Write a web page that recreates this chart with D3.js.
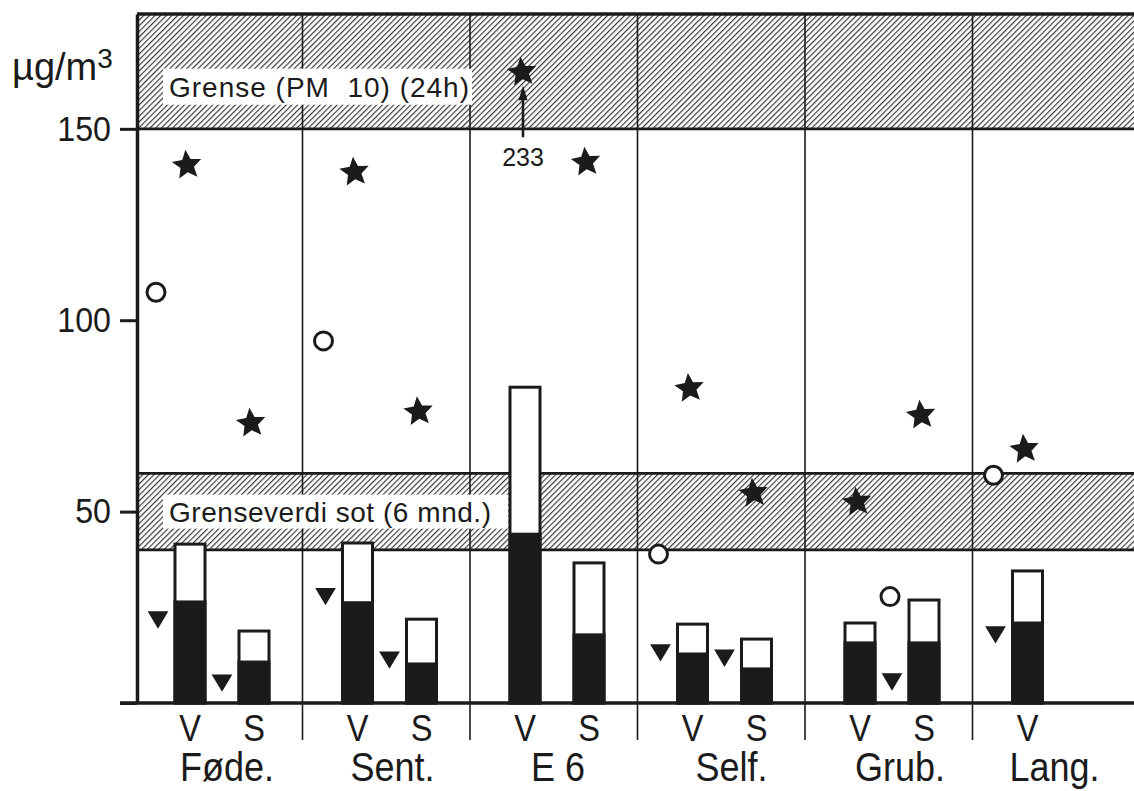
<!DOCTYPE html>
<html><head><meta charset="utf-8">
<script src="https://cdn.jsdelivr.net/npm/d3@7"></script>
<style>
html,body{margin:0;padding:0;background:#fff;}
svg{display:block;font-family:"Liberation Sans",Arial,sans-serif;}
</style></head><body>
<svg id="chart" width="1134" height="791"></svg>
<script>
// ---------- data ----------
const groups = ["Føde.","Sent.","E 6","Self.","Grub.","Lang."];
const yTicks = [0, 50, 100, 150];
const yUnit = "µg/m";

// bars (total = open + black part, soot = black part)
const barGroup  = ["Føde.","Føde.","Sent.","Sent.","E 6","E 6","Self.","Self.","Grub.","Grub.","Lang."];
const barSlot   = ["V","S","V","S","V","S","V","S","V","S","V"];
const barTotal  = [41.5, 18.8, 41.8, 21.9, 82.5, 36.6, 20.6, 16.7, 20.9, 26.9, 34.5];
const barSoot   = [26.4, 10.7, 26.2, 10.2, 44.1, 17.8, 12.8,  8.9, 15.7, 15.7, 20.9];

// stars
const starGroup = ["Føde.","Føde.","Sent.","Sent.","E 6","E 6","Self.","Self.","Grub.","Grub.","Lang."];
const starSlot  = ["V","S","V","S","V","S","V","S","V","S","V"];
const starValue = [140.5, 73.1, 138.7, 76.1, 164.8, 141.3, 82.2, 54.8, 52.5, 75.2, 66.3];
// off-scale star (E 6, V): drawn at 164.8, real value 233
const offScaleGroup = "E 6";
const offScaleLabel = "233";

// open circles
const circleGroup = ["Føde.","Sent.","Self.","Grub.","Lang."];
const circleSlot  = ["preV","preV","preV","preS","preV"];
const circleValue = [107.3, 94.6, 38.9, 27.8, 59.5];

// down triangles
const triGroup = ["Føde.","Føde.","Sent.","Sent.","Self.","Self.","Grub.","Lang."];
const triSlot  = ["preV","preS","preV","preS","preV","preS","preS","preV"];
const triValue = [21.7, 5.2, 27.8, 11.2, 13.1, 11.7, 5.5, 17.8];

// limit bands
const bandLow   = [150, 40];
const bandHigh  = [180, 60];
const bandLabel = ["Grense (PM  10) (24h)", "Grenseverdi sot (6 mnd.)"];
const bandLabelValue = [161, 50];

// season labels under each group
const seasonGroup = ["Føde.","Føde.","Sent.","Sent.","E 6","E 6","Self.","Self.","Grub.","Grub.","Lang."];
const seasonSlot  = ["V","S","V","S","V","S","V","S","V","S","V"];

// ---------- layout ----------
const W = 1134, H = 791;
const ink = "#1b1b1b";
const svg = d3.select("#chart");

const x = d3.scaleBand().domain(groups).range([137, 1142]);
const sub = d3.scalePoint().domain(["preV","V","preS","S"]).range([21, 117]);
const y = d3.scaleLinear().domain([0, 180]).range([703, 14]);
const px = (g, s) => x(g) + sub(s);

const xLeft = 137, xRight = W;

// hatch pattern
const defs = svg.append("defs");
const pat = defs.append("pattern").attr("id","hatch").attr("patternUnits","userSpaceOnUse")
  .attr("width",4).attr("height",4).attr("patternTransform","rotate(45)");
pat.append("rect").attr("width",4).attr("height",4).attr("fill","#fff");
pat.append("line").attr("x1",0.6).attr("y1",-1).attr("x2",0.6).attr("y2",5)
  .attr("stroke","#333").attr("stroke-width",1.15);

// bands
svg.append("g").selectAll("rect").data(bandLow).join("rect")
  .attr("x", xLeft).attr("width", xRight - xLeft)
  .attr("y", (d,i) => y(bandHigh[i])).attr("height", (d,i) => y(d) - y(bandHigh[i]))
  .attr("fill","url(#hatch)");

// band edge lines
const edgeVals = [150, 60, 40];
svg.append("g").selectAll("line").data(edgeVals).join("line")
  .attr("x1", xLeft).attr("x2", xRight).attr("y1", d => y(d)).attr("y2", d => y(d))
  .attr("stroke", ink).attr("stroke-width", 2.6);
// top border
svg.append("line").attr("x1", xLeft).attr("x2", xRight).attr("y1", y(180)).attr("y2", y(180))
  .attr("stroke", ink).attr("stroke-width", 3.5);

// group dividers
svg.append("g").selectAll("line").data(groups.slice(1)).join("line")
  .attr("x1", d => x(d) - 2).attr("x2", d => x(d) - 2)
  .attr("y1", y(180)).attr("y2", 740)
  .attr("stroke", ink).attr("stroke-width", 1.6);

// band labels with white boxes
const boxRight = [472, 508];
const boxH = [36, 34];
const labelLen = [300, 322];
bandLabel.forEach((t, i) => {
  const cy = y(bandLabelValue[i]);
  svg.append("rect").attr("x", 163).attr("width", boxRight[i] - 163)
    .attr("y", cy - boxH[i]/2).attr("height", boxH[i]).attr("fill", "#fff");
  svg.append("text").attr("x", 169).attr("y", cy + 10)
    .attr("font-size", 28).attr("fill", ink).style("white-space","pre")
    .attr("textLength", labelLen[i]).attr("lengthAdjust","spacing")
    .text(t);
});

// bars
const bw = 30;
const bars = svg.append("g");
bars.selectAll("rect.tot").data(barTotal).join("rect").attr("class","tot")
  .attr("x", (d,i) => px(barGroup[i], barSlot[i]) - bw/2).attr("width", bw)
  .attr("y", d => y(d)).attr("height", d => y(0) - y(d))
  .attr("fill","#fff").attr("stroke", ink).attr("stroke-width", 3);
bars.selectAll("rect.soot").data(barSoot).join("rect").attr("class","soot")
  .attr("x", (d,i) => px(barGroup[i], barSlot[i]) - bw/2).attr("width", bw)
  .attr("y", d => y(d)).attr("height", d => y(0) - y(d))
  .attr("fill", ink).attr("stroke", ink).attr("stroke-width", 3);

// star symbol (fat 5-point)
const fatStar = { draw(ctx, size) {
  const R = Math.sqrt(size), r = R * 0.46;
  for (let k = 0; k < 10; k++) {
    const a = -Math.PI/2 + k * Math.PI/5, rad = k % 2 ? r : R;
    const X = Math.cos(a) * rad, Y = Math.sin(a) * rad;
    k ? ctx.lineTo(X, Y) : ctx.moveTo(X, Y);
  }
  ctx.closePath();
}};
const downTri = { draw(ctx, size) {
  const w = Math.sqrt(size);
  ctx.moveTo(-w/2, -w*0.42); ctx.lineTo(w/2, -w*0.42); ctx.lineTo(0, w*0.42); ctx.closePath();
}};

svg.append("g").selectAll("path").data(starValue).join("path")
  .attr("transform", (d,i) => `translate(${px(starGroup[i], starSlot[i]) - 3},${y(d)}) rotate(-6)`)
  .attr("d", d3.symbol().type(fatStar).size(240))
  .attr("fill", ink);

svg.append("g").selectAll("path").data(triValue).join("path")
  .attr("transform", (d,i) => `translate(${px(triGroup[i], triSlot[i])},${y(d)})`)
  .attr("d", d3.symbol().type(downTri).size(430))
  .attr("fill", ink);

svg.append("g").selectAll("circle").data(circleValue).join("circle")
  .attr("cx", (d,i) => px(circleGroup[i], circleSlot[i]) - 2).attr("cy", d => y(d)).attr("r", 9)
  .attr("fill","#fff").attr("stroke", ink).attr("stroke-width", 3);

// off-scale arrow + label
const ax = px(offScaleGroup, "V") - 2;
svg.append("line").attr("x1", ax).attr("x2", ax).attr("y1", y(147.8)).attr("y2", y(158))
  .attr("stroke", ink).attr("stroke-width", 2.6);
svg.append("path")
  .attr("d", `M${ax-4.5},${y(158)+2} L${ax},${y(161.3)} L${ax+4.5},${y(158)+2} Z`)
  .attr("fill", ink);
svg.append("text").attr("x", ax).attr("y", y(140.4)).attr("text-anchor","middle")
  .attr("font-size", 25).attr("fill", ink).text(offScaleLabel);

// y axis
const yAxis = d3.axisLeft(y).tickValues(yTicks).tickSize(17).tickSizeOuter(0).tickPadding(9)
  .tickFormat(d => d === 0 ? "" : d);
const ag = svg.append("g").attr("transform", `translate(${xLeft},0)`).call(yAxis);
ag.select(".domain").attr("stroke", ink).attr("stroke-width", 3.5);
ag.selectAll(".tick line").attr("stroke", ink).attr("stroke-width", 3);
ag.selectAll(".tick text").attr("font-size", 35).attr("fill", ink)
  .attr("font-family", '"Liberation Sans", Arial, sans-serif')
  .attr("transform","scale(0.92,1)").attr("x", -26 / 0.92);

// baseline
svg.append("line").attr("x1", 120).attr("x2", xRight).attr("y1", y(0)).attr("y2", y(0))
  .attr("stroke", ink).attr("stroke-width", 3.5);

// unit label
const ut = svg.append("text").attr("x", 12).attr("y", 80).attr("font-size", 38).attr("fill", ink);
ut.append("tspan").text(yUnit);
ut.append("tspan").attr("font-size", 28).attr("dy", -12).text("3");

// season letters
svg.append("g").selectAll("text").data(seasonSlot).join("text")
  .attr("transform", (d,i) => `translate(${px(seasonGroup[i], d)},741) scale(0.88,1)`)
  .attr("text-anchor","middle").attr("font-size", 37).attr("fill", ink).text(d => d);

// group names
const nameOffset = [90, 88, 86, 92, 93, 80];
svg.append("g").selectAll("text").data(groups).join("text")
  .attr("transform", (d,i) => `translate(${x(d) + nameOffset[i]},781) scale(0.9,1)`)
  .attr("text-anchor","middle").attr("font-size", 40).attr("fill", ink).text(d => d);
</script>
</body></html>
